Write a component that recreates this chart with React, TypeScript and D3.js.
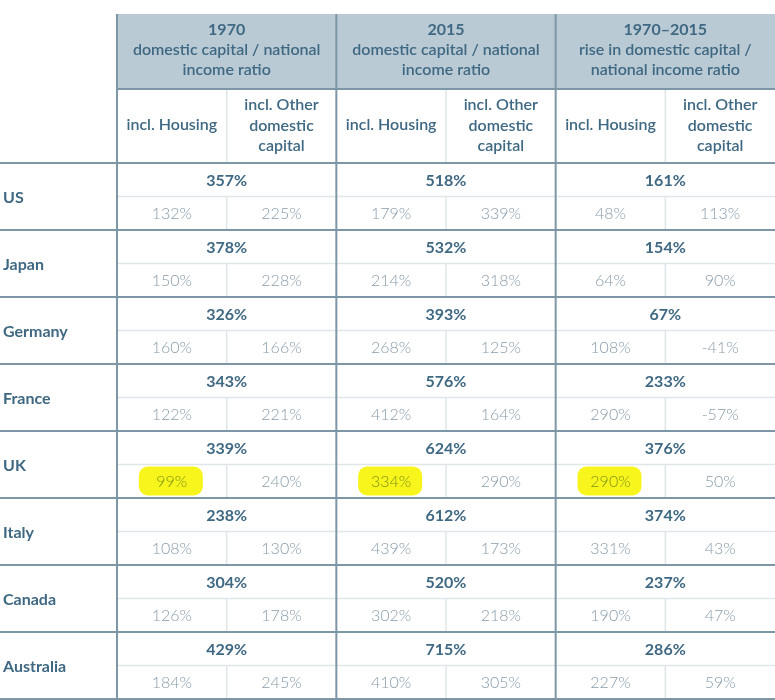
import React from "react";
import * as d3 from "d3";

const countries = ["US", "Japan", "Germany", "France", "UK", "Italy", "Canada", "Australia"];
const total1970 = [357, 378, 326, 343, 339, 238, 304, 429];
const housing1970 = [132, 150, 160, 122, 99, 108, 126, 184];
const other1970 = [225, 228, 166, 221, 240, 130, 178, 245];
const total2015 = [518, 532, 393, 576, 624, 612, 520, 715];
const housing2015 = [179, 214, 268, 412, 334, 439, 302, 410];
const other2015 = [339, 318, 125, 164, 290, 173, 218, 305];
const riseTotal = [161, 154, 67, 233, 376, 374, 237, 286];
const riseHousing = [48, 64, 108, 290, 290, 331, 190, 227];
const riseOther = [113, 90, -41, -57, 50, 43, 47, 59];

const groupKeys = ["1970", "2015", "rise"];
const groupTitles = [
  ["1970", "domestic capital / national", "income ratio"],
  ["2015", "domestic capital / national", "income ratio"],
  ["1970–2015", "rise in domestic capital /", "national income ratio"],
];
const subTitleHousing = ["incl. Housing"];
const subTitleOther = ["incl. Other", "domestic", "capital"];
const highlightCountry = "UK";

const groups = [
  { total: total1970, housing: housing1970, other: other1970 },
  { total: total2015, housing: housing2015, other: other2015 },
  { total: riseTotal, housing: riseHousing, other: riseOther },
];

const W = 775;
const H = 700;
const FONT = "Lato, 'Open Sans', sans-serif";
const TEXT = "#3f6883";
const LIGHT_TEXT = "#879cab";
const THICK = "#7d97a7";
const THIN = "#dfe6ea";
const HEADER_FILL = "#b9cad4";

export default function App() {
  const left = 117;
  const right = 775;
  const headTop = 14;
  const headMid = 89;
  const headBot = 163;
  const bottom = 699;

  const xg = d3.scaleBand<string>().domain(groupKeys).range([left, right]);
  const y = d3.scaleBand<string>().domain(countries).range([headBot, bottom]);
  const gw = xg.bandwidth();
  const rh = y.bandwidth();
  const fmt = (v: number) => `${v}%`;

  return (
    <svg width={W} height={H} style={{ display: "block", position: "absolute", left: 0, top: 0 }} fontFamily={FONT}>
      <rect x={0} y={0} width={W} height={H} fill="#fff" />
      <rect x={left} y={headTop} width={right - left} height={headMid - headTop} fill={HEADER_FILL} />

      {countries.map((c) => {
        const yy = (y(c) as number) + rh / 2;
        return <line key={"mid" + c} x1={left} x2={right} y1={yy} y2={yy} stroke={THIN} strokeWidth={1.5} />;
      })}
      {groupKeys.map((g) => {
        const xx = (xg(g) as number) + gw / 2;
        return (
          <g key={"sub" + g}>
            <line x1={xx} x2={xx} y1={headMid} y2={headBot} stroke={THIN} strokeWidth={1.5} />
            {countries.map((c) => (
              <line key={c} x1={xx} x2={xx} y1={(y(c) as number) + rh / 2} y2={(y(c) as number) + rh} stroke={THIN} strokeWidth={1.5} />
            ))}
          </g>
        );
      })}

      <line x1={left} x2={right} y1={headMid} y2={headMid} stroke={THICK} strokeWidth={2} />
      {countries.map((c) => (
        <line key={"top" + c} x1={0} x2={right} y1={y(c) as number} y2={y(c) as number} stroke={THICK} strokeWidth={2} />
      ))}
      <line x1={0} x2={right} y1={bottom} y2={bottom} stroke={THICK} strokeWidth={2} />
      {groupKeys.map((g) => (
        <line key={"v" + g} x1={xg(g) as number} x2={xg(g) as number} y1={headTop} y2={bottom} stroke={THICK} strokeWidth={2} />
      ))}

      {groupKeys.map((g, i) => {
        const cx = (xg(g) as number) + gw / 2;
        return (
          <text key={"h" + g} x={cx} textAnchor="middle" fill={TEXT} fontSize={16} fontWeight={600}>
            {groupTitles[i].map((t, j) => (
              <tspan key={j} x={cx} y={35 + j * 20} fontWeight={j === 0 ? 700 : 600}>
                {t}
              </tspan>
            ))}
          </text>
        );
      })}
      {groupKeys.map((g) => {
        const x0 = xg(g) as number;
        const cxH = x0 + gw / 4;
        const cxO = x0 + (gw * 3) / 4;
        return (
          <g key={"sh" + g} fill={TEXT} fontSize={16} fontWeight={600} textAnchor="middle">
            {subTitleHousing.map((t, j) => (
              <text key={"a" + j} x={cxH} y={130}>
                {t}
              </text>
            ))}
            {subTitleOther.map((t, j) => (
              <text key={"b" + j} x={cxO} y={110 + j * 20.5}>
                {t}
              </text>
            ))}
          </g>
        );
      })}

      {countries.map((c, ri) => {
        const y0 = y(c) as number;
        return (
          <g key={"row" + c}>
            <text x={3} y={y0 + rh / 2 + 6} fill={TEXT} fontSize={16} fontWeight={700}>
              {c}
            </text>
            {groups.map((gr, gi) => {
              const x0 = xg(groupKeys[gi]) as number;
              return (
                <g key={gi}>
                  <text x={x0 + gw / 2} y={y0 + 23} textAnchor="middle" fill={TEXT} fontSize={16} fontWeight={700}>
                    {fmt(gr.total[ri])}
                  </text>
                  <text x={x0 + gw / 4} y={y0 + 56} textAnchor="middle" fill={LIGHT_TEXT} fontSize={16} fontWeight={300}>
                    {fmt(gr.housing[ri])}
                  </text>
                  <text x={x0 + (gw * 3) / 4} y={y0 + 56} textAnchor="middle" fill={LIGHT_TEXT} fontSize={16} fontWeight={300}>
                    {fmt(gr.other[ri])}
                  </text>
                </g>
              );
            })}
          </g>
        );
      })}

      {groupKeys.map((g) => {
        const yy = (y(highlightCountry) as number) + rh / 2;
        const cx = (xg(g) as number) + gw / 4;
        return (
          <rect
            key={"hl" + g}
            x={cx - 33}
            y={yy + 2}
            width={64}
            height={29}
            rx={9}
            fill="#f7f51c"
            style={{ mixBlendMode: "multiply" }}
          />
        );
      })}
    </svg>
  );
}
